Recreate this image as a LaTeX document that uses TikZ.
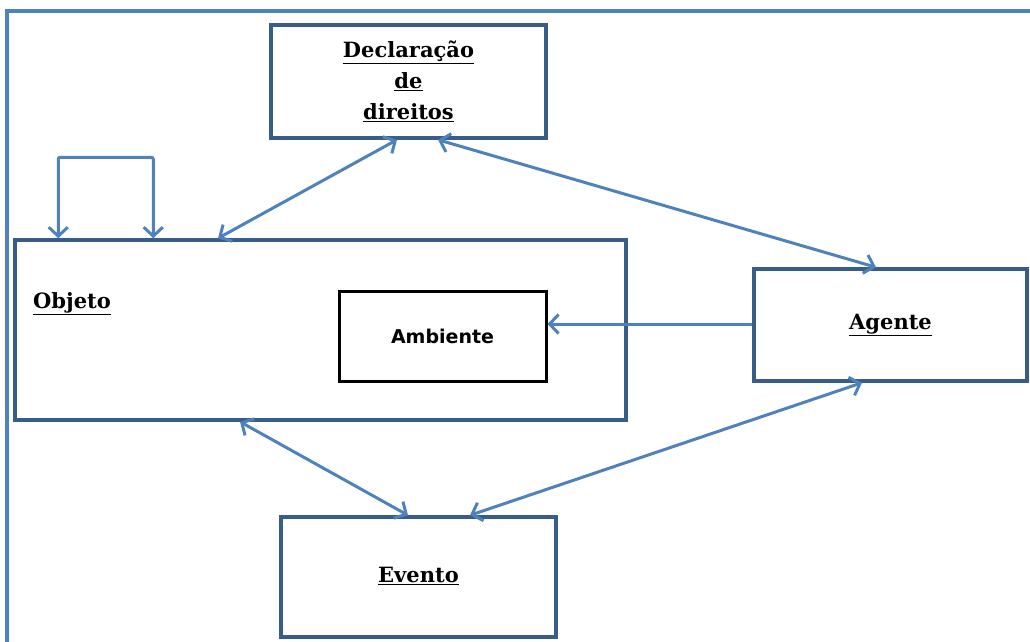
\documentclass[tikz,border=0pt]{standalone}
\usepackage{fontspec}
\usepackage{xcolor}
\usetikzlibrary{arrows.meta, positioning, calc}
\newfontfamily\lblfont{DejaVu Serif}
\newfontfamily\ambfont{DejaVu Sans}
\definecolor{boxblue}{RGB}{56, 93, 138}
\definecolor{linkblue}{RGB}{79, 129, 189}
\newcommand{\ul}[1]{\underline{#1}}

\begin{document}
\begin{tikzpicture}[x=1pt, y=-1pt,
    box/.style={rectangle, draw=boxblue, line width=3.5pt, fill=white, align=center,
                font=\lblfont\bfseries\fontsize{21}{31}\selectfont},
    inner/.style={rectangle, draw=black, line width=3pt, fill=white,
                  font=\ambfont\bfseries\fontsize{19}{22}\selectfont},
    link/.style={draw=linkblue, line width=3pt,
                 {Straight Barb[length=9pt, width=19pt]}-{Straight Barb[length=9pt, width=19pt]}},
    onelink/.style={draw=linkblue, line width=3pt, -{Straight Barb[length=9pt, width=19pt]}}]

    \useasboundingbox (0,0) rectangle (1030,641);

    % Frame
    \draw[linkblue, line width=3.5pt] (1032,11) -- (7,11) -- (7,643);

    % Declaracao de direitos
    \node[box, minimum width=275pt, minimum height=113pt] (dec) at (408.5, 81.5) {
        \ul{Declaração}\\ \ul{de}\\ \ul{direitos}
    };

    % Objeto
    \node[box, minimum width=611pt, minimum height=180pt] (obj) at (320.5, 330) {};
    \node[anchor=base west, inner sep=0pt, font=\lblfont\bfseries\fontsize{21}{24}\selectfont]
        (objtxt) at (33, 308) {\ul{Objeto}};

    % Ambiente
    \node[inner, minimum width=207pt, minimum height=90pt] (amb) at (442.5, 336) {Ambiente};

    % Agente
    \node[box, minimum width=273pt, minimum height=112pt] (age) at (890.5, 325) {\ul{Agente}};

    % Evento
    \node[box, minimum width=275pt, minimum height=120pt] (eve) at (418.5, 577) {\raisebox{5pt}{\ul{Evento}}};

    % Arrows
    \draw[link, rounded corners=2pt] ([xshift=45pt]obj.north west) -- ++(0,-81)
        -| ([xshift=140pt]obj.north west);
    \draw[link] ([xshift=-102.5pt]obj.north) -- ([xshift=-11.5pt]dec.south);
    \draw[link] ([xshift=29.5pt]dec.south) -- ([xshift=-14.5pt]age.north);
    \draw[onelink] ([yshift=1pt]age.west) -- ([yshift=1pt]age.west -| amb.east);
    \draw[link] ([xshift=-80.5pt]obj.south) -- ([xshift=-10.5pt]eve.north);
    \draw[link] ([xshift=51.5pt]eve.north) -- ([xshift=-28.5pt]age.south);
\end{tikzpicture}
\end{document}
